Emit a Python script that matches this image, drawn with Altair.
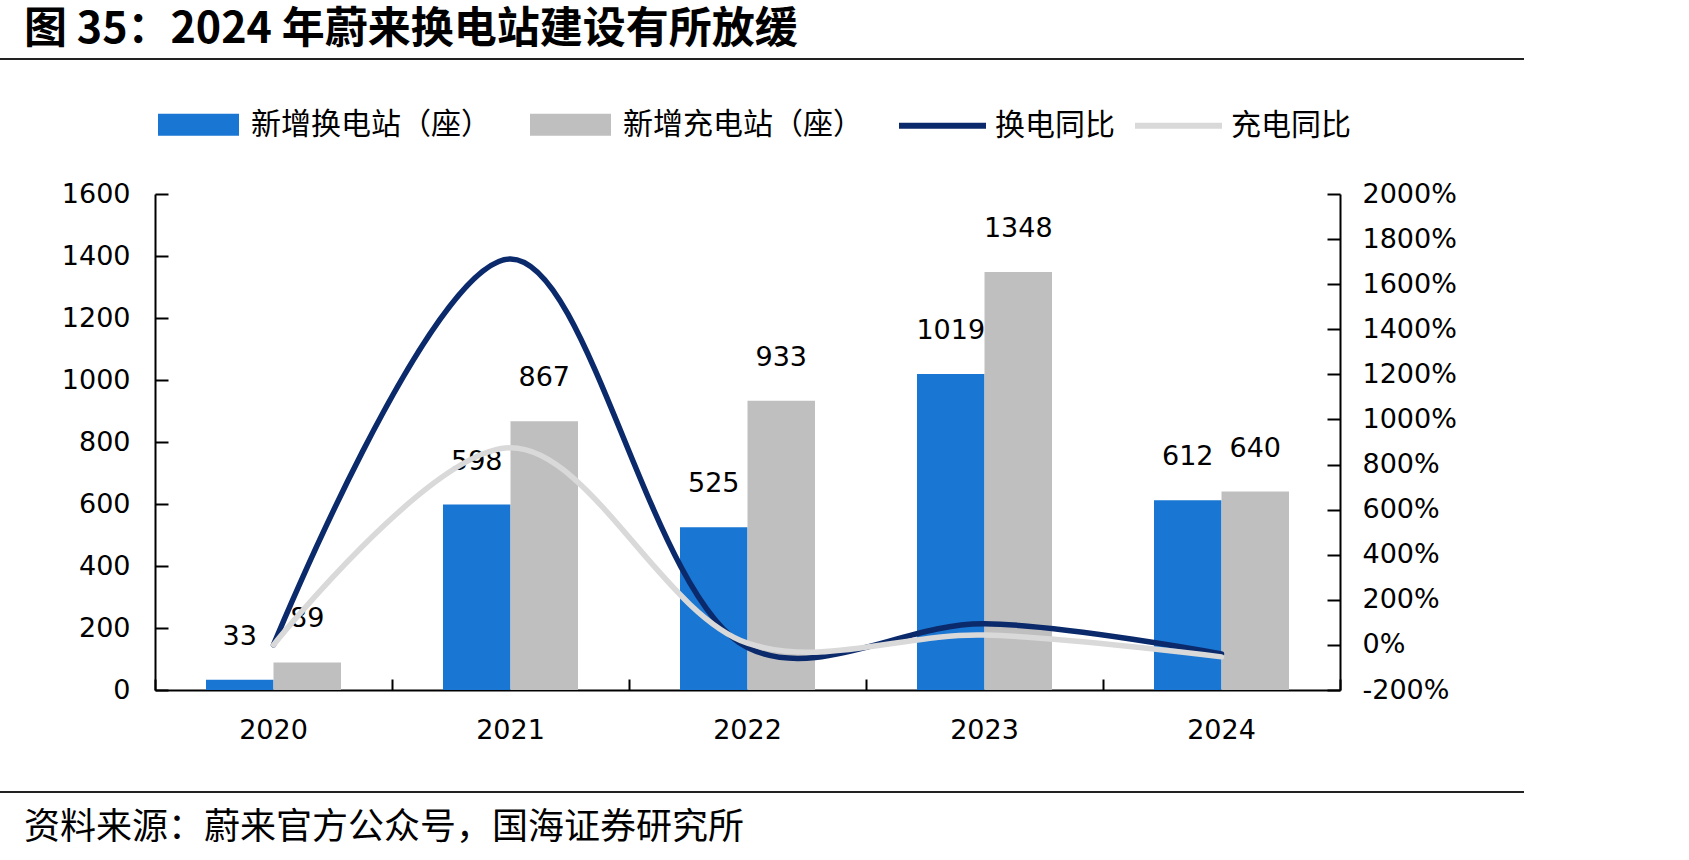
import altair as alt
import pandas as pd

# ---------------- data ----------------
years = ['2020', '2021', '2022', '2023', '2024']
swap_new = [33, 598, 525, 1019, 612]          # 新增换电站（座）
charge_new = [89, 867, 933, 1348, 640]        # 新增充电站（座）
swap_yoy = [0, 1712, -12, 94, -40]            # 换电同比 (%)
charge_yoy = [0, 874, 8, 44, -53]             # 充电同比 (%)

bar_series = ['新增换电站（座）', '新增充电站（座）']
line_series = ['换电同比', '充电同比']
left_ticks = [0, 200, 400, 600, 800, 1000, 1200, 1400, 1600]
right_ticks = [-200, 0, 200, 400, 600, 800, 1000, 1200, 1400, 1600, 1800, 2000]

title_text = '图 35：2024 年蔚来换电站建设有所放缓'
source_text = '资料来源：蔚来官方公众号，国海证券研究所'

# ---------------- tables ----------------
bar_rows = []
for i, y in enumerate(years):
    bar_rows.append({'year': y, 'series': bar_series[0], 'value': swap_new[i]})
    bar_rows.append({'year': y, 'series': bar_series[1], 'value': charge_new[i]})
bar_df = pd.DataFrame(bar_rows)

line_rows = []
for i, y in enumerate(years):
    line_rows.append({'year': y, 'series': line_series[0], 'yoy': swap_yoy[i]})
    line_rows.append({'year': y, 'series': line_series[1], 'yoy': charge_yoy[i]})
line_df = pd.DataFrame(line_rows)

# ---------------- layout constants ----------------
W, H = 1185, 496
PL, PT = 155, 194
NUM_FONT = 'DejaVu Sans'
CJK_FONT = 'Noto Sans CJK SC'
NUM_SIZE = 27

band_scale = alt.Scale(type='band', domain=years, paddingInner=0, paddingOuter=0)
point_scale = alt.Scale(type='point', domain=years, padding=0.5)
left_scale = alt.Scale(domain=[0, 1600], nice=False, zero=True)
right_scale = alt.Scale(domain=[-200, 2000], nice=False, zero=False)

x_bar = alt.X('year:N', scale=band_scale, axis=alt.Axis(
    title=None, orient='bottom', labelAngle=0, labelFont=NUM_FONT, labelFontSize=NUM_SIZE,
    labelColor='black', labelPadding=27, ticks=False, domain=True, domainColor='black',
    domainWidth=2, grid=False))
x_off = alt.XOffset('series:N', scale=alt.Scale(domain=bar_series, paddingInner=0, paddingOuter=0.7556))
y_left = alt.Y('value:Q', scale=left_scale, axis=alt.Axis(
    title=None, orient='left', values=left_ticks, format='d', ticks=False, domain=True,
    domainColor='black', domainWidth=2, labelFont=NUM_FONT, labelFontSize=NUM_SIZE,
    labelColor='black', labelPadding=25, grid=False))
fill_enc = alt.Fill('series:N', scale=alt.Scale(domain=bar_series, range=['#1976D2', '#BFBFBF']),
                    legend=alt.Legend(orient='none', legendX=3, legendY=-110, direction='horizontal',
                                      title=None, symbolType='M-1,-0.27h2v0.54h-2Z', symbolSize=6561,
                                      symbolStrokeWidth=0, labelFont=CJK_FONT, labelFontSize=30,
                                      labelColor='black', labelOffset=12, columnPadding=39,
                                      padding=0, labelLimit=500))

bars = alt.Chart(bar_df).mark_bar().encode(x=x_bar, xOffset=x_off, y=y_left, fill=fill_enc)
bar_labels = alt.Chart(bar_df).mark_text(baseline='middle', dy=-43, font=NUM_FONT,
                                         fontSize=NUM_SIZE, color='black').encode(
    x=x_bar, xOffset=x_off, y=y_left, text=alt.Text('value:Q', format='d'))
bar_layer = alt.layer(bars, bar_labels)

y_right = alt.Y('yoy:Q', scale=right_scale, axis=alt.Axis(
    title=None, orient='right', values=right_ticks, labelExpr="datum.value + '%'", ticks=False,
    domain=True, domainColor='black', domainWidth=2, labelFont=NUM_FONT, labelFontSize=NUM_SIZE,
    labelColor='black', labelPadding=22, grid=False))
x_line = alt.X('year:N', scale=point_scale, axis=None)
stroke_enc = alt.Stroke('series:N', scale=alt.Scale(domain=line_series, range=['#0B2A6B', '#D9D9D9']),
                        legend=alt.Legend(orient='none', legendX=741, legendY=-115, direction='horizontal',
                                          title=None, symbolType='stroke', symbolSize=7569,
                                          symbolStrokeWidth=6, labelFont=CJK_FONT, labelFontSize=30,
                                          labelColor='black', labelOffset=6, columnPadding=8,
                                          padding=0, labelLimit=500))

line_dark = alt.Chart(line_df).transform_filter(alt.datum.series == line_series[0]).mark_line(
    interpolate='catmull-rom', strokeWidth=5.5, strokeCap='round').encode(
    x=x_line, y=y_right, stroke=stroke_enc)
line_gray = alt.Chart(line_df).transform_filter(alt.datum.series == line_series[1]).mark_line(
    interpolate='catmull-rom', strokeWidth=5.5, strokeCap='round').encode(
    x=x_line, y=y_right, stroke=stroke_enc)
line_layer = alt.layer(line_dark, line_gray)

# inward tick marks (axes placed on the opposite side)
left_tick_layer = alt.Chart(bar_df).mark_point(opacity=0).encode(
    y=alt.Y('value:Q', scale=left_scale, axis=alt.Axis(
        title=None, orient='right', offset=-W, values=left_ticks, labels=False, domain=False,
        ticks=True, tickSize=13, tickWidth=2, tickColor='black', grid=False)))
right_tick_layer = alt.Chart(line_df).mark_point(opacity=0).encode(
    y=alt.Y('yoy:Q', scale=right_scale, axis=alt.Axis(
        title=None, orient='left', offset=-W, values=right_ticks, labels=False, domain=False,
        ticks=True, tickSize=13, tickWidth=2, tickColor='black', grid=False)))
x_tick_layer = alt.Chart(bar_df).mark_point(opacity=0).encode(
    x=alt.X('year:N', scale=band_scale, axis=alt.Axis(
        title=None, orient='top', offset=-H, labels=False, domain=False, ticks=True,
        tickBand='extent', tickSize=11, tickWidth=2, tickColor='black', grid=False)))

# title, source and separator lines
title_mark = alt.Chart(pd.DataFrame({'t': [title_text]})).mark_text(
    align='left', baseline='middle', font=CJK_FONT, fontSize=43, fontWeight='bold', color='black').encode(
    x=alt.value(24 - PL), y=alt.value(30 - PT), text='t:N')
source_mark = alt.Chart(pd.DataFrame({'t': [source_text]})).mark_text(
    align='left', baseline='middle', font=CJK_FONT, fontSize=36, color='black').encode(
    x=alt.value(24 - PL), y=alt.value(828 - PT), text='t:N')
top_rule = alt.Chart(pd.DataFrame({'a': [0]})).mark_rule(color='#222222', strokeWidth=2).encode(
    x=alt.value(0 - PL), x2=alt.value(1524 - PL), y=alt.value(59 - PT))
bottom_rule = alt.Chart(pd.DataFrame({'a': [0]})).mark_rule(color='#222222', strokeWidth=2).encode(
    x=alt.value(0 - PL), x2=alt.value(1524 - PL), y=alt.value(792 - PT))

chart = alt.layer(
    bar_layer, line_layer, left_tick_layer, right_tick_layer, x_tick_layer,
    title_mark, source_mark, top_rule, bottom_rule
).resolve_scale(x='independent', y='independent').properties(
    width=W, height=H,
    padding={'left': PL, 'top': PT, 'right': 1689 - PL - W, 'bottom': 860 - PT - H},
    autosize=alt.AutoSizeParams(type='none'),
    background='white'
).configure_view(stroke=None)

chart.save('out.html', embed_options={'renderer': 'svg', 'actions': False})
